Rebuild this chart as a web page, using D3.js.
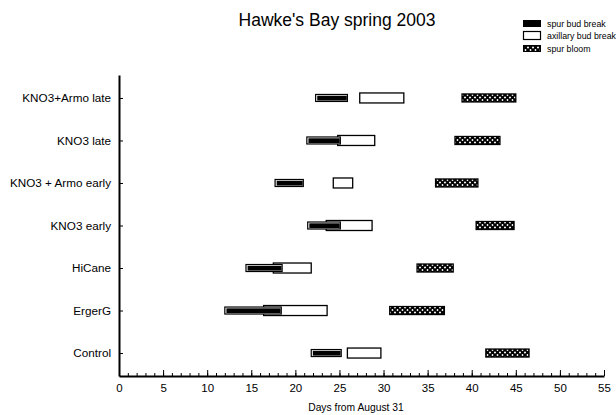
<!DOCTYPE html>
<html>
<head>
<meta charset="utf-8">
<title>Hawke's Bay spring 2003</title>
<style>
body { margin: 0; background: #fff; }
svg text { font-family: "Liberation Sans", Arial, sans-serif; fill: #000; }
.axis path, .axis line { stroke: #000; }
</style>
</head>
<body>
<script src="https://d3js.org/d3.v7.min.js"></script>
<script>

// treatments, top to bottom
const categories = ["KNO3+Armo late", "KNO3 late", "KNO3 + Armo early", "KNO3 early", "HiCane", "ErgerG", "Control"];

// [start, end] in days from August 31
const spurBudBreak = [[22.3, 25.9], [21.3, 25.1], [17.7, 20.9], [21.4, 25.1], [14.4, 18.5], [12.0, 18.4], [21.8, 25.2]];
const axillaryBudBreak = [[27.3, 32.3], [24.8, 29.0], [24.3, 26.5], [23.5, 28.7], [17.5, 21.8], [16.4, 23.6], [25.9, 29.7]];
const spurBloom = [[38.9, 45.0], [38.1, 43.2], [35.9, 40.7], [40.5, 44.8], [33.8, 37.9], [30.7, 36.9], [41.6, 46.5]];

const xTicks = [0, 5, 10, 15, 20, 25, 30, 35, 40, 45, 50, 55];
const seriesNames = ["spur bud break", "axillary bud break", "spur bloom"];

const width = 616, height = 415;

const svg = d3.select("body").append("svg")
    .attr("width", width)
    .attr("height", height);

// crosshatch for bloom bars
const defs = svg.append("defs");
const pat = defs.append("pattern")
    .attr("id", "hatch")
    .attr("patternUnits", "userSpaceOnUse")
    .attr("width", 5).attr("height", 5);
pat.append("rect").attr("width", 5).attr("height", 5).attr("fill", "#fff");
pat.append("path").attr("d", "M-1,-1L6,6M6,-1L-1,6")
    .attr("stroke", "#000").attr("stroke-width", 1.9);

const x = d3.scaleLinear().domain([0, 55]).range([119, 604]);
const y = d3.scalePoint().domain(categories).range([75, 376]).padding(0.54);

// minor x ticks
svg.append("g")
    .attr("class", "axis")
    .attr("transform", "translate(0,376)")
    .call(d3.axisBottom(x).tickValues(d3.range(0, 56, 1)).tickSize(-3).tickSizeOuter(0).tickFormat(""))
    .call(g => g.select(".domain").remove());

// major x ticks
svg.append("g")
    .attr("class", "axis")
    .attr("transform", "translate(0,376)")
    .call(d3.axisBottom(x).tickValues(xTicks).tickSize(-6).tickSizeOuter(0).tickPadding(6))
    .call(g => g.select(".domain").attr("stroke-width", 2))
    .call(g => g.selectAll("text").style("font-size", "11.5px").attr("dy", "0.9em"));

// y axis
svg.append("g")
    .attr("class", "axis")
    .attr("transform", "translate(119,0)")
    .call(d3.axisLeft(y).tickSize(-4).tickSizeOuter(0).tickPadding(8))
    .call(g => g.select(".domain").attr("stroke-width", 2))
    .call(g => g.selectAll("text").style("font-size", "11.7px"));

// axillary bud break (open boxes)
svg.append("g").selectAll("rect")
    .data(axillaryBudBreak)
  .enter().append("rect")
    .attr("x", d => x(d[0]))
    .attr("y", (d, i) => y(categories[i]) - 5)
    .attr("width", d => x(d[1]) - x(d[0]))
    .attr("height", 10)
    .attr("fill", "#fff")
    .attr("stroke", "#000")
    .attr("stroke-width", 1.3);

// spur bud break (solid bars with a light inner rim)
const spur = svg.append("g").selectAll("g")
    .data(spurBudBreak)
  .enter().append("g");
spur.append("rect")
    .attr("x", d => x(d[0]))
    .attr("y", (d, i) => y(categories[i]) - 3.5)
    .attr("width", d => x(d[1]) - x(d[0]))
    .attr("height", 7)
    .attr("fill", "#fff")
    .attr("stroke", "#000")
    .attr("stroke-width", 1.2);
spur.append("rect")
    .attr("x", d => x(d[0]) + 1.6)
    .attr("y", (d, i) => y(categories[i]) - 2.2)
    .attr("width", d => x(d[1]) - x(d[0]) - 2.2)
    .attr("height", 4.8)
    .attr("fill", "#000");

// spur bloom (crosshatched)
svg.append("g").selectAll("rect")
    .data(spurBloom)
  .enter().append("rect")
    .attr("x", d => x(d[0]))
    .attr("y", (d, i) => y(categories[i]) - 4)
    .attr("width", d => x(d[1]) - x(d[0]))
    .attr("height", 8)
    .attr("fill", "url(#hatch)")
    .attr("stroke", "#000")
    .attr("stroke-width", 1.3);

// title
svg.append("text")
    .attr("x", 337)
    .attr("y", 26)
    .attr("text-anchor", "middle")
    .style("font-size", "17.5px")
    .text("Hawke's Bay spring 2003");

// x axis label
svg.append("text")
    .attr("x", 356)
    .attr("y", 411)
    .attr("text-anchor", "middle")
    .style("font-size", "10.3px")
    .text("Days from August 31");

// legend
const legend = svg.append("g").attr("transform", "translate(523,0)");
legend.append("rect").attr("x", 0.5).attr("y", 20.5).attr("width", 17).attr("height", 6)
    .attr("fill", "#000").attr("stroke", "#000");
legend.append("rect").attr("x", 0.5).attr("y", 31.5).attr("width", 17).attr("height", 8)
    .attr("fill", "#fff").attr("stroke", "#000").attr("stroke-width", 1.2);
legend.append("rect").attr("x", 0.5).attr("y", 45.5).attr("width", 17).attr("height", 6)
    .attr("fill", "url(#hatch)").attr("stroke", "#000");
legend.selectAll("text.leg")
    .data(seriesNames)
  .enter().append("text")
    .attr("class", "leg")
    .attr("x", 24)
    .attr("y", (d, i) => [24, 35.5, 49][i])
    .attr("dy", "0.35em")
    .style("font-size", "8.8px")
    .text(d => d);

</script>
</body>
</html>
